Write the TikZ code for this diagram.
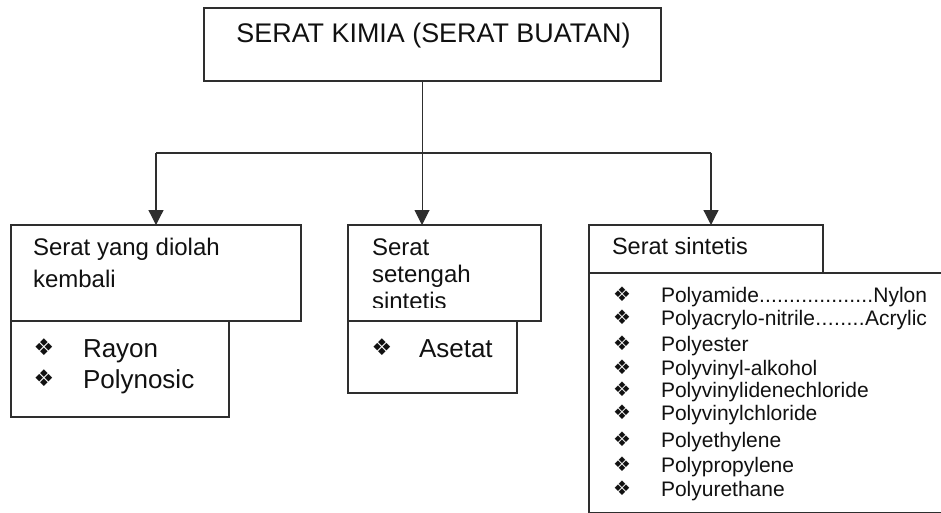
\documentclass[tikz,border=0pt]{standalone}
\usepackage{fontspec}
\setmainfont{Liberation Sans}
\newfontfamily\symfont{DejaVu Sans}
\usetikzlibrary{arrows.meta}
\definecolor{linec}{HTML}{2E2E2E}
\definecolor{textc}{HTML}{111111}
\begin{document}
\begin{tikzpicture}[x=1pt,y=-1pt,
  box/.style={draw=linec, line width=1.3pt, inner sep=0pt, outer sep=0pt, anchor=north west},
  txt/.style={anchor=base west, inner sep=0pt, outer sep=0pt, text=textc},
  bigtxt/.style={txt, font=\fontsize{26}{30}\selectfont},
  midtxt/.style={txt, font=\fontsize{24}{28}\selectfont},
  listtxt/.style={txt, font=\fontsize{21}{24}\selectfont},
  bul/.style={anchor=center, inner sep=0pt, text=textc, font=\symfont\fontsize{23}{26}\selectfont},
  sbul/.style={anchor=center, inner sep=0pt, text=textc, font=\symfont\fontsize{20}{23}\selectfont},
  arr/.style={draw=linec, line width=1.3pt, -{Triangle[width=15pt,length=15pt]}},
  thinarr/.style={draw=linec, line width=1pt, -{Triangle[width=15pt,length=15pt]}}]
\useasboundingbox (0,0) rectangle (941,513);
\fill[white] (0,0) rectangle (941,513);
\begin{scope}
\clip (0,0) rectangle (941,513);
% boxes
\node[box, minimum width=457, minimum height=73] (top) at (204,8) {};
\node[box, minimum width=290, minimum height=96] (b1) at (11,225) {};
\node[box, minimum width=218, minimum height=96] (b1l) at (11,321) {};
\node[box, minimum width=193, minimum height=96] (b2) at (348,225) {};
\node[box, minimum width=169, minimum height=72] (b2l) at (348,321) {};
\node[box, minimum width=234, minimum height=48] (b3) at (589,225) {};
\node[box, minimum width=380, minimum height=240] (b3l) at (589,273) {};
\end{scope}
% connectors
\coordinate (jl) at (156,153);
\coordinate (jm) at (422,153);
\coordinate (jr) at (711,153);
\draw[thinarr] (top.south -| jm) -- (jm |- b2.north);
\draw[draw=linec, line width=1.3pt] (jl) -- (jr);
\draw[arr] (jl) -- (jl |- b1.north);
\draw[arr] (jr) -- (jr |- b3.north);
% texts
\node[txt, anchor=base, font=\fontsize{26.9}{30}\selectfont] (t0) at (433.5,43) {SERAT KIMIA (SERAT BUATAN)};
\node[midtxt] (t1a) at (33,255) {Serat yang diolah};
\node[midtxt] (t1b) at (33,287) {kembali};
\node[bul] (u1a) at (44,347) {❖};
\node[bigtxt] (r1) at (83,357) {Rayon};
\node[bul] (u1b) at (44,378) {❖};
\node[bigtxt] (r2) at (83,388) {Polynosic};
\node[midtxt] (t2a) at (372,255) {Serat};
\node[midtxt] (t2b) at (372,282) {setengah};
\begin{scope}
\clip (348,225) rectangle (541,307);
\node[midtxt] (t2c) at (372,309) {sintetis};
\end{scope}
\node[bul] (u2) at (382,347) {❖};
\node[bigtxt] (a1) at (419,357) {Asetat};
\node[txt, font=\fontsize{23.5}{27}\selectfont] (t3) at (612,254) {Serat sintetis};
\foreach \y/\t [count=\i] in {
  302/{\makebox[266pt][l]{Polyamide\xleaders\hbox{.}\hfill Nylon}},
  325/{\makebox[266pt][l]{Polyacrylo-nitrile\xleaders\hbox{.}\hfill Acrylic}},
  351/{Polyester},
  375/{Polyvinyl-alkohol},
  397/{Polyvinylidenechloride},
  420/{Polyvinylchloride},
  447/{Polyethylene},
  472/{Polypropylene},
  496/{Polyurethane}} {
  \node[sbul] (lb\i) at (622,\y-8) {❖};
  \node[listtxt] (li\i) at (661,\y) {\t};
}
\end{tikzpicture}
\end{document}
